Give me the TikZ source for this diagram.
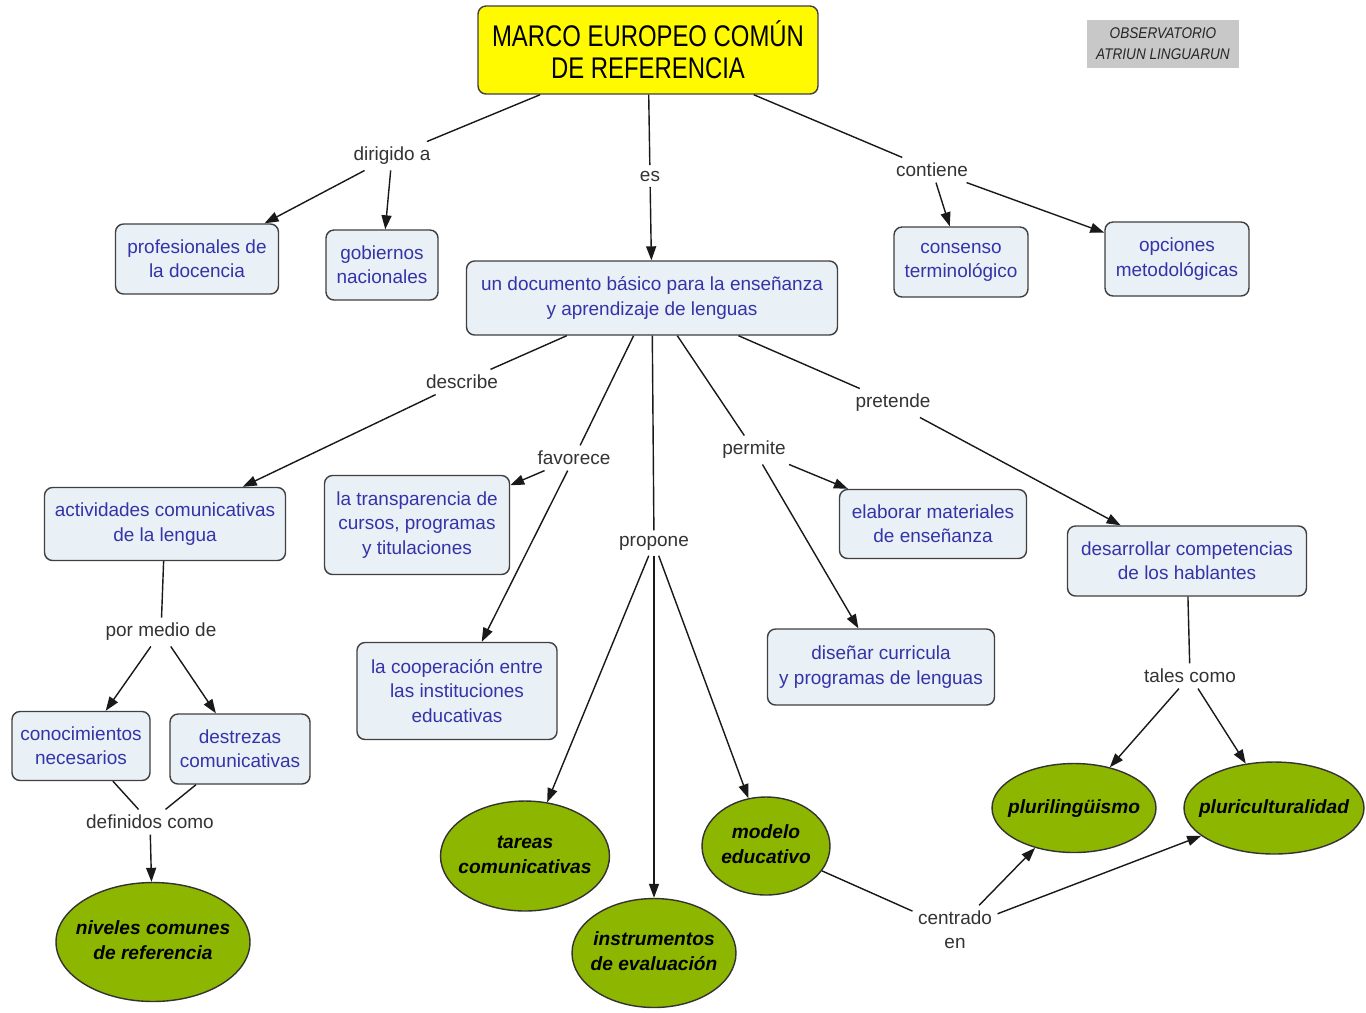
\documentclass[tikz,border=0pt]{standalone}
\usepackage{graphicx}
\usepackage{fontspec}
\setmainfont{Liberation Sans}
\usetikzlibrary{arrows.meta,shapes.geometric}
\definecolor{boxfill}{RGB}{233,240,246}
\definecolor{boxtext}{RGB}{52,52,168}
\definecolor{ellfill}{RGB}{141,182,0}
\definecolor{linec}{RGB}{25,25,25}
\definecolor{topyellow}{RGB}{255,250,0}
\definecolor{obsgray}{RGB}{200,200,200}
\newcommand{\elltxt}[1]{\makebox[0pt][c]{\begin{tabular}{@{}c@{}}#1\end{tabular}}}
\begin{document}
\begin{tikzpicture}[x=0.02cm,y=-0.02cm,
 box/.style={draw=black!75, line width=0.8pt, fill=boxfill, rounded corners=0.16cm, text=boxtext, font=\fontsize{10.8}{13.8}\selectfont, align=center, inner sep=0pt},
 ell/.style={ellipse, draw=black!80, line width=0.8pt, fill=ellfill, font=\fontsize{10.9}{14.2}\selectfont\bfseries\itshape, inner sep=0pt},
 lab/.style={font=\fontsize{10.8}{13.8}\selectfont, text=black!80, align=center, inner sep=3pt},
 con/.style={draw=linec, line width=0.8pt},
 arr/.style={con, -{Triangle[length=0.28cm,width=0.2cm]}},
]
\useasboundingbox (0,0) rectangle (1366,1012);
\fill[white] (0,0) rectangle (1366,1012);

% top
\node[box, fill=topyellow, text=black, minimum width=6.8cm, minimum height=1.76cm, font=\fontsize{17}{18.2}\selectfont] (top) at (648,50) {\scalebox{0.8}[1]{MARCO EUROPEO COMÚN}\\\scalebox{0.8}[1]{DE REFERENCIA}};
\node[fill=obsgray, minimum width=3.06cm, minimum height=0.96cm, inner sep=0pt, font=\fontsize{8.8}{11.9}\selectfont\itshape, text=black!85, align=center] (obs) at (1163,44) {\scalebox{0.88}[1]{OBSERVATORIO}\\\scalebox{0.88}[1]{ATRIUN LINGUARUN}};

% boxes
\node[box, minimum width=3.26cm, minimum height=1.4cm] (prof) at (197,259) {profesionales de\\la docencia};
\node[box, minimum width=2.24cm, minimum height=1.4cm] (gob) at (382,265) {gobiernos\\nacionales};
\node[box, minimum width=7.42cm, minimum height=1.48cm] (doc) at (652,298) {un documento básico para la enseñanza\\y aprendizaje de lenguas};
\node[box, minimum width=2.68cm, minimum height=1.4cm] (cons) at (961,262) {consenso\\terminológico};
\node[box, minimum width=2.88cm, minimum height=1.48cm] (opc) at (1177,259) {opciones\\metodológicas};
\node[box, minimum width=4.82cm, minimum height=1.46cm] (act) at (165,524) {actividades comunicativas\\de la lengua};
\node[box, minimum width=3.7cm, minimum height=1.98cm] (trans) at (417,525) {la transparencia de\\cursos, programas\\y titulaciones};
\node[box, minimum width=3.74cm, minimum height=1.38cm] (elab) at (933,524) {elaborar materiales\\de enseñanza};
\node[box, minimum width=4.78cm, minimum height=1.4cm] (desa) at (1187,561) {desarrollar competencias\\de los hablantes};
\node[box, minimum width=4.0cm, minimum height=1.94cm] (coop) at (457,691) {la cooperación entre\\las instituciones\\educativas};
\node[box, minimum width=4.54cm, minimum height=1.52cm] (dis) at (881,667) {diseñar curricula\\y programas de lenguas};
\node[box, minimum width=2.76cm, minimum height=1.38cm] (conoc) at (81,746) {conocimientos\\necesarios};
\node[box, minimum width=2.8cm, minimum height=1.4cm] (destr) at (240,749) {destrezas\\comunicativas};

% ellipses
\node[ell, minimum width=3.88cm, minimum height=2.38cm] (niv) at (153,942) {\elltxt{niveles comunes\\de referencia}};
\node[ell, minimum width=3.38cm, minimum height=2.2cm] (tar) at (525,856) {\elltxt{tareas\\comunicativas}};
\node[ell, minimum width=3.28cm, minimum height=2.18cm] (ins) at (654,953) {\elltxt{instrumentos\\de evaluación}};
\node[ell, minimum width=2.56cm, minimum height=1.96cm] (mod) at (766,846) {\elltxt{modelo\\educativo}};
\node[ell, minimum width=3.28cm, minimum height=1.78cm] (plu1) at (1074,808) {\elltxt{plurilingüismo}};
\node[ell, minimum width=3.6cm, minimum height=1.84cm] (plu2) at (1274,808) {\elltxt{pluriculturalidad}};

% linking phrases
\node[lab] (dir) at (392,156) {dirigido a};
\node[lab] (es) at (650,176) {es};
\node[lab] (cont) at (932,170) {contiene};
\node[lab] (desc) at (462,382) {describe};
\node[lab] (fav) at (574,458) {favorece};
\node[lab] (perm) at (754,450) {permite};
\node[lab] (pret) at (893,403) {pretende};
\node[lab] (prop) at (654,543) {propone};
\node[lab] (pmd) at (161,632) {por medio de};
\node[lab] (tales) at (1190,676) {tales como};
\node[lab] (def) at (150,822) {definidos como};
\node[lab] (cen) at (955,930) {centrado\\en};

% connectors
\draw[con] (top) -- (dir);
\draw[arr] (dir) -- (prof);
\draw[arr] (dir) -- (gob);
\draw[con] (top) -- (es);
\draw[arr] (es) -- (doc);
\draw[con] (top) -- (cont);
\draw[arr] (cont) -- (cons);
\draw[arr] (cont) -- (opc);

\draw[con] (doc) -- (desc);
\draw[arr] (desc) -- (act);
\draw[con] (doc) -- (fav);
\draw[arr] (fav) -- (trans);
\draw[arr] (fav) -- (coop);
\draw[con] (doc) -- (prop);
\draw[arr] (prop) -- (tar);
\draw[arr] (prop) -- (ins);
\draw[arr] (prop) -- (mod);
\draw[con] (doc) -- (perm);
\draw[arr] (perm) -- (elab);
\draw[arr] (perm) -- (dis);
\draw[con] (doc) -- (pret);
\draw[arr] (pret) -- (desa);

\draw[con] (act) -- (pmd);
\draw[arr] (pmd) -- (conoc);
\draw[arr] (pmd) -- (destr);
\draw[con] (conoc) -- (def);
\draw[con] (destr) -- (def);
\draw[arr] (def) -- (niv);

\draw[con] (desa) -- (tales);
\draw[arr] (tales) -- (plu1);
\draw[arr] (tales) -- (plu2);

\draw[con] (mod) -- (cen);
\draw[arr] (cen) -- (plu1);
\draw[arr] (cen) -- (plu2);
\end{tikzpicture}
\end{document}
